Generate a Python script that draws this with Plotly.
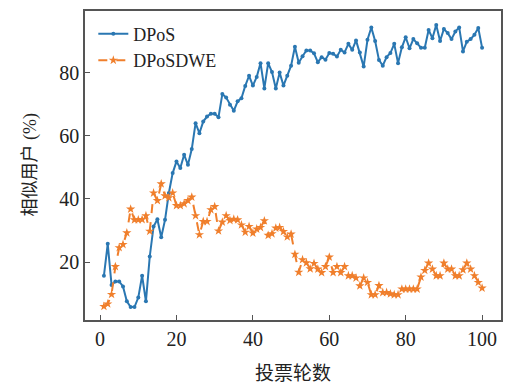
import plotly.graph_objects as go

rounds = list(range(1, 101))

dpos = [15.7, 25.8, 12.8, 13.9, 13.9, 12.3, 7.6, 5.8, 5.8, 8.8,
        15.7, 7.6, 21.8, 31.3, 33.6, 27.9, 33.4, 41.9, 48.2, 51.9,
        49.8, 54.0, 50.8, 55.8, 64.0, 60.8, 64.5, 66.1, 67.0, 67.0,
        65.9, 73.2, 72.1, 69.8, 67.9, 70.9, 71.9, 75.8, 79.0, 75.9,
        78.6, 83.0, 75.0, 83.0, 80.2, 75.0, 80.0, 75.9, 79.0, 82.2,
        88.2, 83.1, 85.2, 87.0, 87.0, 86.1, 83.3, 84.9, 84.1, 86.2,
        86.0, 85.1, 87.2, 86.4, 89.1, 87.2, 90.2, 86.4, 81.9, 90.4,
        94.3, 90.0, 84.0, 82.2, 84.9, 86.2, 89.1, 83.0, 88.0, 91.2,
        87.7, 90.6, 89.3, 87.9, 87.9, 93.5, 90.9, 95.1, 90.0, 93.8,
        92.5, 90.6, 93.0, 94.3, 86.7, 89.8, 90.6, 92.0, 94.1, 87.9]

dposdwe = [6.0, 6.8, 9.8, 18.6, 24.6, 25.6, 29.3, 36.8, 33.4, 33.4,
           33.5, 34.7, 29.8, 41.9, 39.5, 44.8, 41.0, 40.4, 41.9, 37.9,
           37.9, 38.5, 39.5, 40.6, 34.7, 28.7, 32.9, 32.9, 36.6, 37.6,
           29.9, 32.7, 34.7, 33.2, 33.6, 33.4, 31.8, 29.5, 31.3, 29.2,
           30.5, 31.0, 33.1, 28.5, 29.0, 30.8, 31.0, 29.7, 28.0, 28.9,
           22.5, 16.8, 20.8, 19.8, 17.9, 19.6, 17.8, 16.7, 18.6, 21.6,
           16.7, 18.6, 16.7, 18.6, 15.7, 15.7, 15.0, 12.5, 15.0, 13.6,
           9.7, 9.7, 12.6, 10.4, 10.4, 10.0, 9.7, 9.7, 11.5, 11.5,
           11.5, 11.5, 11.5, 15.3, 17.4, 19.7, 17.8, 15.7, 15.7, 19.7,
           17.8, 17.8, 15.7, 15.7, 17.6, 19.7, 17.8, 15.7, 13.6, 11.8]

x_ticks = [0, 20, 40, 60, 80, 100]
y_ticks = [20, 40, 60, 80]
x_title = "投票轮数"
y_title = "相似用户 (%)"

serif = "Liberation Serif, Times New Roman, Noto Sans CJK SC, serif"

fig = go.Figure()
fig.add_trace(go.Scatter(
    x=rounds, y=dpos, name="DPoS", mode="lines+markers",
    line=dict(color="#2a77b2", width=2),
    marker=dict(symbol="circle", size=4, color="#2a77b2"),
))
fig.add_trace(go.Scatter(
    x=rounds, y=dposdwe, name="DPoSDWE", mode="lines+markers",
    line=dict(color="#f07f2c", width=2, dash="dash"),
    marker=dict(symbol="star", size=7, color="#f07f2c"),
))

axis_common = dict(
    showgrid=False, zeroline=False, showline=True, mirror=True,
    linecolor="#555555", linewidth=1.5, automargin=False,
    ticks="inside", ticklen=5, tickwidth=1, tickcolor="#555555",
    tickfont=dict(family=serif, size=20, color="#222222"),
)

fig.update_layout(
    width=505, height=383,
    margin=dict(l=85, r=4, t=11, b=63),
    paper_bgcolor="white", plot_bgcolor="white",
    showlegend=True,
    legend=dict(
        x=0.02, y=0.985, xanchor="left", yanchor="top",
        bgcolor="rgba(0,0,0,0)",
        font=dict(family=serif, size=18, color="#222222"),
        tracegroupgap=0, itemwidth=30,
    ),
    xaxis=dict(range=[-3.95, 104.95], tickvals=x_ticks, **axis_common),
    yaxis=dict(range=[1.7, 99.5], tickvals=y_ticks, **axis_common),
    annotations=[
        dict(text=x_title, xref="paper", yref="paper", x=0.5, y=-0.172,
             xanchor="center", yanchor="middle", showarrow=False,
             font=dict(family=serif, size=19, color="#222222")),
        dict(text=y_title, xref="paper", yref="paper", x=-0.132, y=0.5,
             xanchor="center", yanchor="middle", showarrow=False, textangle=-90,
             font=dict(family=serif, size=18, color="#222222")),
    ],
)

fig.write_html(
    "out.html",
    config={"displayModeBar": False},
    post_script="document.body.style.margin='0px';document.body.style.overflow='hidden';",
)
